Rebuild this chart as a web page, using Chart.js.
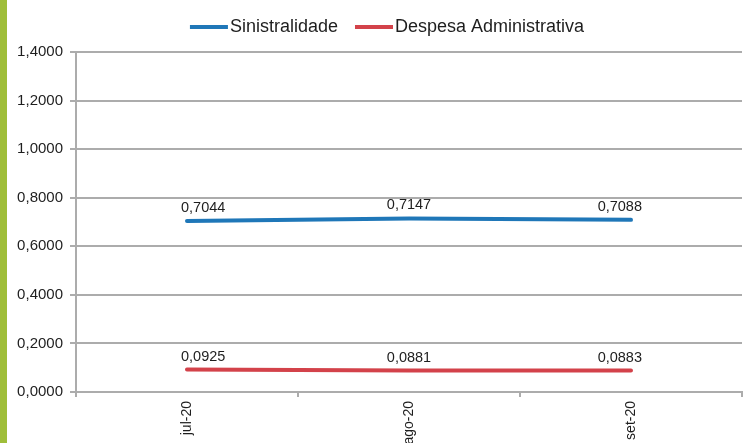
<!DOCTYPE html>
<html>
<head>
<meta charset="utf-8">
<script src="https://cdn.jsdelivr.net/npm/chart.js@4"></script>
<style>
    html, body { margin: 0; padding: 0; background: #fff; overflow: hidden; }
    #wrap { position: relative; width: 743px; height: 443px; }
    #bar { position: absolute; left: 0; top: 0; width: 7px; height: 443px; background: #9fbe3a; }
</style>
</head>
<body>
<div id="wrap">
    <canvas id="chart"></canvas>
    <div id="bar"></div>
</div>
<script>
var months = ['jul-20', 'ago-20', 'set-20'];
var sinistralidade = [0.7044, 0.7147, 0.7088];
var despesaAdm = [0.0925, 0.0881, 0.0883];
var yTicks = [0, 0.2, 0.4, 0.6, 0.8, 1.0, 1.2, 1.4];

var blue = 'rgb(31, 119, 184)';
var red = 'rgb(211, 66, 74)';
var gridGray = 'rgb(172, 172, 172)';
var textColor = 'rgb(30, 30, 30)';

function fmt(v) {
    return v.toFixed(4).replace('.', ',');
}

////////////////////////////////////////////////////////////////////////////////
// Legend drawn as line + text, close together like the original.

var lineLegend = {
    id: 'lineLegend',
    afterDraw: function (chart) {
        var ctx = chart.ctx;
        var sets = chart.data.datasets;
        var lineW = 38, gap = 2, itemGap = 17, y = 27;
        ctx.save();
        ctx.font = '18px "Liberation Sans", Arial, sans-serif';
        ctx.textBaseline = 'middle';
        var total = 0;
        sets.forEach(function (ds, i) {
            total += lineW + gap + ctx.measureText(ds.label).width;
            if (i < sets.length - 1) total += itemGap;
        });
        var x = 387 - total / 2;
        sets.forEach(function (ds) {
            ctx.fillStyle = ds.borderColor;
            ctx.fillRect(x, y - 2, lineW, 4);
            x += lineW + gap;
            ctx.fillStyle = textColor;
            ctx.fillText(ds.label, x, y);
            x += ctx.measureText(ds.label).width + itemGap;
        });
        ctx.restore();
    }
};

////////////////////////////////////////////////////////////////////////////////
// Value labels above each point.

var valueLabels = {
    id: 'valueLabels',
    afterDatasetsDraw: function (chart) {
        var ctx = chart.ctx;
        ctx.save();
        ctx.font = '14.5px "Liberation Sans", Arial, sans-serif';
        ctx.fillStyle = textColor;
        ctx.textBaseline = 'middle';
        chart.data.datasets.forEach(function (ds, di) {
            var meta = chart.getDatasetMeta(di);
            meta.data.forEach(function (pt, i) {
                var txt = fmt(ds.data[i]);
                var x = pt.x;
                if (i === 0) {
                    ctx.textAlign = 'left';
                    x = pt.x - 6;
                } else if (i === meta.data.length - 1) {
                    ctx.textAlign = 'right';
                    x = pt.x + 11;
                } else {
                    ctx.textAlign = 'center';
                }
                ctx.fillText(txt, x, pt.y - 13);
            });
        });
        ctx.restore();
    }
};

var ctx = document.getElementById('chart').getContext('2d');
var myChart = new Chart(ctx, {
    type: 'line',
    data: {
        labels: months,
        datasets: [{
            label: 'Sinistralidade',
            data: sinistralidade,
            borderColor: blue,
            backgroundColor: blue,
            borderWidth: 4,
            pointRadius: 0,
            borderCapStyle: 'round',
            tension: 0
        },
        {
            label: 'Despesa Administrativa',
            data: despesaAdm,
            borderColor: red,
            backgroundColor: red,
            borderWidth: 4,
            pointRadius: 0,
            borderCapStyle: 'round',
            tension: 0
        }]
    },
    options: {
        responsive: true,
        maintainAspectRatio: false,
        animation: false,
        layout: {
            padding: { top: 52, right: 1, left: 0, bottom: 0 }
        },
        plugins: {
            legend: { display: false },
            tooltip: { enabled: false }
        },
        scales: {
            x: {
                offset: true,
                grid: {
                    offset: true,
                    drawOnChartArea: false,
                    tickLength: 5,
                    color: gridGray,
                    lineWidth: 2
                },
                border: { color: gridGray, width: 2 },
                ticks: {
                    minRotation: 90,
                    maxRotation: 90,
                    padding: 4,
                    color: textColor,
                    font: { family: '"Liberation Sans", Arial, sans-serif', size: 14 }
                },
                afterFit: function (scale) { scale.height = 51; }
            },
            y: {
                min: 0,
                max: 1.4,
                afterBuildTicks: function (scale) {
                    scale.ticks = yTicks.map(function (v) { return { value: v }; });
                },
                grid: {
                    color: gridGray,
                    lineWidth: 2,
                    tickLength: 6
                },
                border: { color: gridGray, width: 2 },
                ticks: {
                    padding: 7,
                    color: textColor,
                    font: { family: '"Liberation Sans", Arial, sans-serif', size: 15 },
                    callback: function (v) { return fmt(v); }
                },
                afterFit: function (scale) { scale.width = 76; }
            }
        }
    },
    plugins: [lineLegend, valueLabels]
});
</script>
</body>
</html>
